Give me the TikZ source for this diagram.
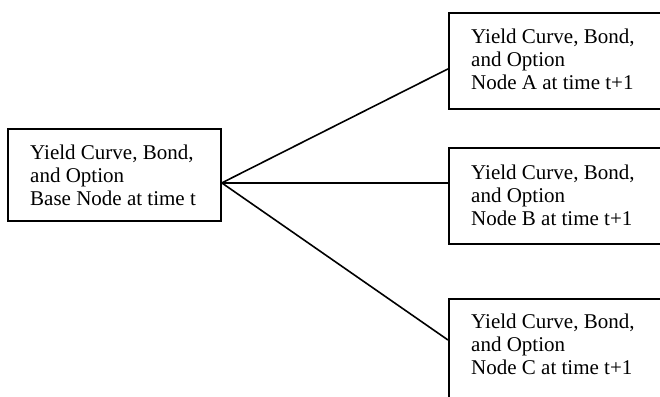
\documentclass[tikz,border=0pt]{standalone}
\usepackage{fontspec}
\setmainfont{Liberation Serif}
\begin{document}
\begin{tikzpicture}[x=1pt,y=-1pt,
  box/.style={draw, line width=1.8pt, anchor=north west, inner sep=0pt,
    minimum width=213pt},
  rbox/.style={box, minimum width=230pt},
  txt/.style={anchor=west, align=left, inner sep=0pt,
    font=\fontsize{21}{23}\selectfont},
  link/.style={line width=1.6pt}]
\useasboundingbox (0,0) rectangle (660,396);
\clip (0,0) rectangle (660,396);
\fill[white] (0,0) rectangle (660,396);
\node[box, minimum height=92pt] (base) at (7,128) {};
\node[rbox, minimum height=96pt] (A) at (448,12) {};
\node[rbox, minimum height=96pt] (B) at (448,147) {};
\node[rbox, minimum height=104pt] (C) at (448,298) {};
\node[txt] (baset) at ([xshift=23pt]base.west)
  {Yield Curve, Bond,\\and Option\\Base Node at time t};
\node[txt] (At) at ([xshift=23pt,yshift=2pt]A.west)
  {Yield Curve, Bond,\\and Option\\Node A at time t+1};
\node[txt] (Bt) at ([xshift=23pt,yshift=1pt]B.west)
  {Yield Curve, Bond,\\and Option\\Node B at time t+1};
\node[txt] (Ct) at ([xshift=23pt]C.north west |- 0,344)
  {Yield Curve, Bond,\\and Option\\Node C at time t+1};
\coordinate (J) at ([yshift=-8pt]base.east);
\draw[link] (J) -- ([yshift=-8pt]A.west);
\draw[link] (J) -- (J -| B.west);
\draw[link] (J) -- (C.north west |- 0,340);
\end{tikzpicture}
\end{document}
